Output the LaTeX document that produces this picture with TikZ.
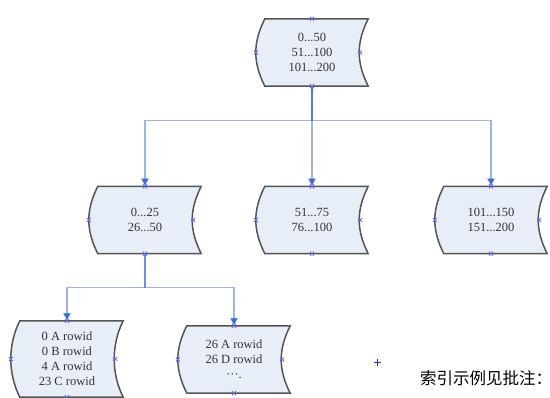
\documentclass[tikz,border=0pt]{standalone}
\usepackage{fontspec}
\setmainfont{Liberation Serif}
\newfontfamily\cjk{Noto Sans CJK SC}
\usetikzlibrary{arrows.meta,backgrounds}

\definecolor{storefill}{HTML}{E8EEF8}
\definecolor{storeedge}{HTML}{555555}
\definecolor{linkblue}{HTML}{3A6CC8}
\definecolor{cpointblue}{HTML}{6A6AF0}
\definecolor{plusblue}{HTML}{2A2AE0}

\begin{document}
\begin{tikzpicture}[x=1pt, y=-1pt,
    store/.style={minimum width=112pt, minimum height=67pt, inner sep=0pt, align=center,
      text=black!80, font=\fontsize{12.5}{15}\selectfont},
    storeline/.style={draw=storeedge, fill=storefill, line width=1.5pt},
    link/.style={draw=linkblue, draw opacity=0.5, line width=1.3pt, -{Triangle[length=8pt,width=8pt]}},
    cpoint/.style={draw=cpointblue, line width=0.8pt}]
      \useasboundingbox (0,0) rectangle (550,398);

      % Khối gốc và các khối nhánh
      \node[store] (goc) at (312,52.5) {0...50\\51...100\\101...200};
      \node[store] (khoi1) at (145,220) {0...25\\26...50};
      \node[store] (khoi2) at (312,220) {51...75\\76...100};
      \node[store] (khoi3) at (491,220) {101...150\\151...200};
      \node[store, minimum height=76pt] (la1) at (67,359) {0 A rowid\\0 B rowid\\4 A rowid\\23 C rowid};
      \node[store] (la2) at (234,359.5) {26 A rowid\\26 D rowid\\···.};

      % Viền cong của các khối
      \begin{scope}[on background layer]
        \foreach \n in {goc,khoi1,khoi2,khoi3,la1,la2}
          \draw[storeline] ([xshift=9pt]\n.north west) -- (\n.north east)
            .. controls +(-12,24) and +(-12,-24) .. (\n.south east)
            -- ([xshift=9pt]\n.south west)
            .. controls +(-12,-24) and +(-12,24) .. ([xshift=9pt]\n.north west) -- cycle;
      \end{scope}

      % Đường nối
      \draw[link] (goc.south) -- ++(0,34) -| (khoi1.north);
      \draw[link] (goc.south) -- (khoi2.north);
      \draw[link] (goc.south) -- ++(0,34) -| (khoi3.north);
      \draw[link] (khoi1.south) -- ++(0,33.5) -| (la1.north);
      \draw[link] (khoi1.south) -- ++(0,33.5) -| (la2.north);

      % Điểm nối
      \foreach \n in {goc,khoi1,khoi2,khoi3,la1,la2}{
        \foreach \a in {north,south,west}
          \draw[cpoint] (\n.\a) +(-2,-2) -- +(2,2) +(-2,2) -- +(2,-2);
        \draw[cpoint] ([xshift=-8pt]\n.east) +(-2,-2) -- +(2,2) +(-2,2) -- +(2,-2);
      }

      % Dấu cộng và ghi chú
      \draw[plusblue, line width=1pt] (377,359.5) -- (377,366.5) (373.5,363) -- (380.5,363);
      \node[anchor=base west, inner sep=0pt, font=\cjk\fontsize{16.5}{17}\selectfont] (ghichu) at (420,385) {索引示例见批注：};
    \end{tikzpicture}
\end{document}
